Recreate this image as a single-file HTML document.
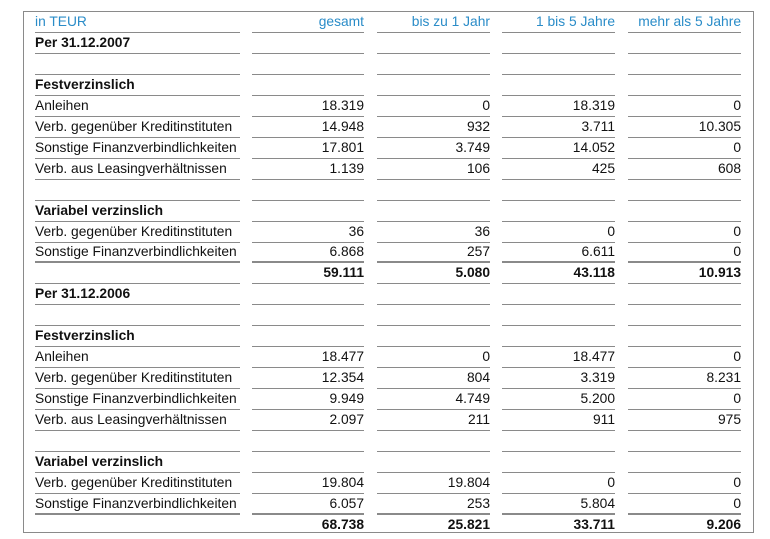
<!DOCTYPE html>
<html><head><meta charset="utf-8"><style>
body{margin:0;background:#fff;width:770px;height:539px;position:relative;overflow:hidden;font-family:"Liberation Sans","DejaVu Sans",sans-serif;font-size:13.8px;color:#111}
.box{position:absolute;left:23px;top:11px;width:731px;height:522px;border:1px solid #8a8a8a;box-sizing:border-box}
.c{position:absolute;white-space:nowrap;border-bottom:1px solid #8a8a8a;box-sizing:border-box}
.r{text-align:right}
.b{font-weight:bold}
.h{color:#2a8cc8}
.k{border-bottom:2px solid #8a8a8a}
.nb{border-bottom:none}
</style></head><body>
<div class="box"></div>
<div id="t"></div>
<script>
var rows=[
["h","in TEUR","gesamt","bis zu 1 Jahr","1 bis 5 Jahre","mehr als 5 Jahre"],
["b","Per 31.12.2007","","","",""],
["","","","","",""],
["b","Festverzinslich","","","",""],
["","Anleihen","18.319","0","18.319","0"],
["","Verb. gegenüber Kreditinstituten","14.948","932","3.711","10.305"],
["","Sonstige Finanzverbindlichkeiten","17.801","3.749","14.052","0"],
["","Verb. aus Leasingverhältnissen","1.139","106","425","608"],
["","","","","",""],
["b","Variabel verzinslich","","","",""],
["","Verb. gegenüber Kreditinstituten","36","36","0","0"],
["k","Sonstige Finanzverbindlichkeiten","6.868","257","6.611","0"],
["t","","59.111","5.080","43.118","10.913"],
["b","Per 31.12.2006","","","",""],
["","","","","",""],
["b","Festverzinslich","","","",""],
["","Anleihen","18.477","0","18.477","0"],
["","Verb. gegenüber Kreditinstituten","12.354","804","3.319","8.231"],
["","Sonstige Finanzverbindlichkeiten","9.949","4.749","5.200","0"],
["","Verb. aus Leasingverhältnissen","2.097","211","911","975"],
["","","","","",""],
["b","Variabel verzinslich","","","",""],
["","Verb. gegenüber Kreditinstituten","19.804","19.804","0","0"],
["k","Sonstige Finanzverbindlichkeiten","6.057","253","5.804","0"],
["tl","","68.738","25.821","33.711","9.206"]];
var cols=[[35,205],[252,112],[377,113],[502,113],[628,113]];
var h="";
rows.forEach(function(r,i){
 var bottom=33+i*20.95, top=bottom-21;
 var k=r[0];
 for(var j=0;j<5;j++){
  var cls="c"+(j>0?" r":"");
  if(k=="h")cls+=" h";
  if(k=="b"&&j==0)cls+=" b";
  if(k=="k")cls+=" k";
  if(k[0]=="t"&&j>0)cls+=" b";
  if(k=="tl")cls+=" nb";
  h+='<div class="'+cls+'" style="left:'+cols[j][0]+'px;top:'+top.toFixed(1)+'px;width:'+cols[j][1]+'px;height:21px;line-height:20.5px">'+r[j+1]+'</div>';
 }
});
document.getElementById("t").innerHTML=h;
</script>
</body></html>
